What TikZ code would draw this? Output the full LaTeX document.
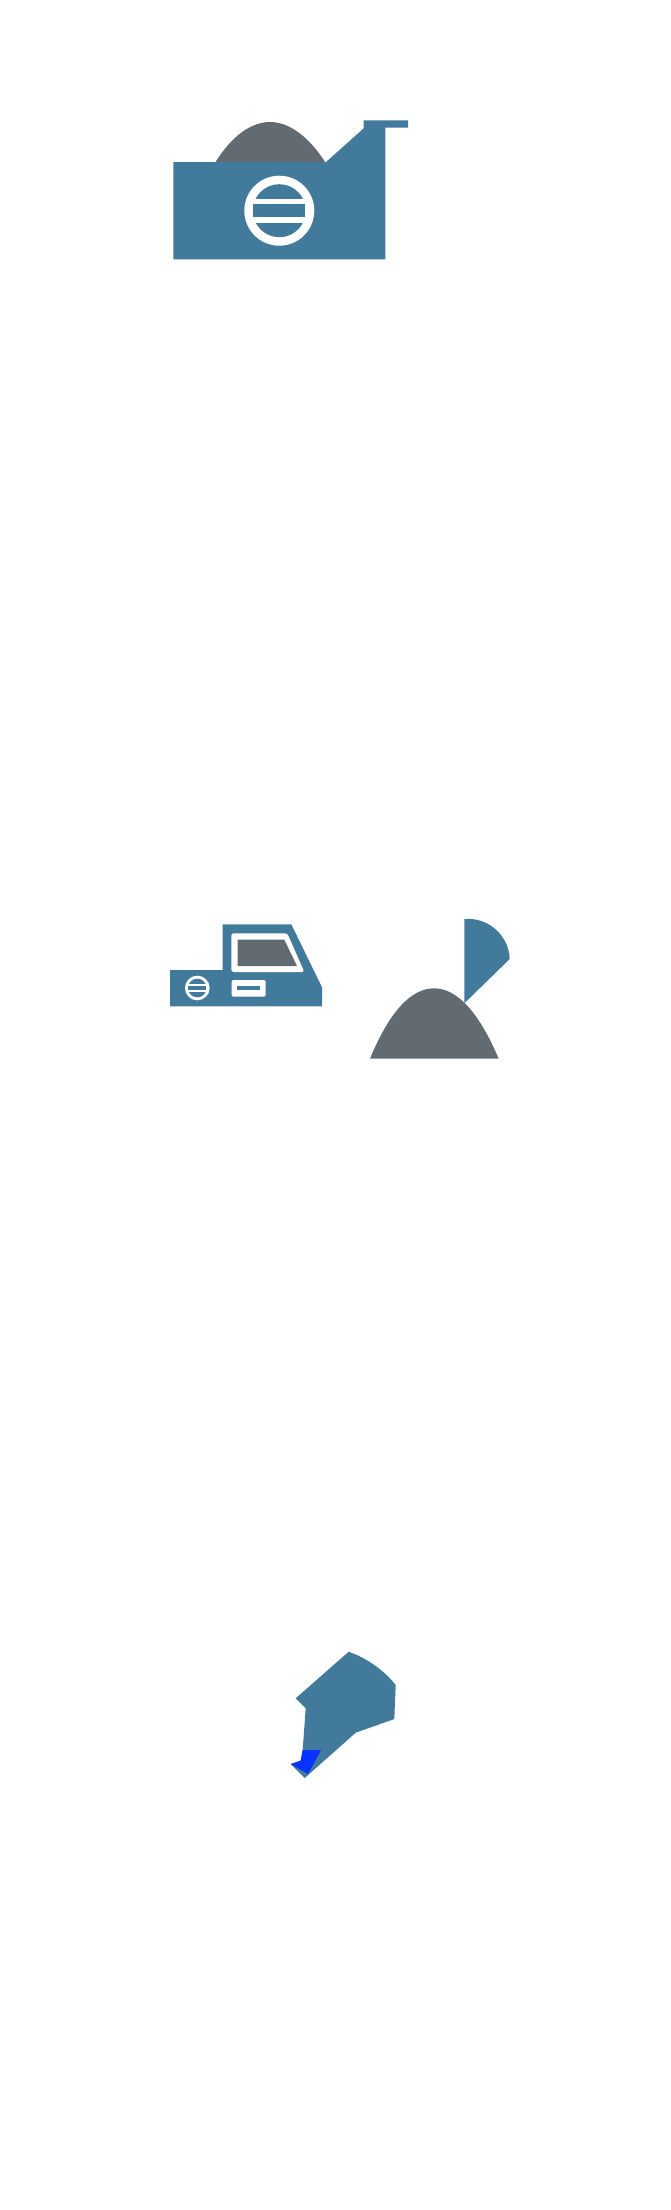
\documentclass[tikz,border=0pt]{standalone}
\usepackage{xcolor}
\usepackage{tikz}
\definecolor{bodyblue}{RGB}{66,122,156}
\definecolor{rollgray}{RGB}{99,107,114}
\definecolor{tipblue}{RGB}{10,50,255}
\tikzset{
	bodypart/.style={fill=bodyblue,draw=none},
	rollpart/.style={fill=rollgray,draw=none},
	tippart/.style={fill=tipblue,draw=none},
	cutpart/.style={fill=white,draw=none}
}
% wheel with two white bars, outer radius 35 before scaling
\newcommand{\tapewheel}[2]{
	\begin{scope}[shift={(#1)},scale=#2]
		\fill[cutpart] (0,0) circle (35);
		\fill[bodypart] (0,0) circle (26.5);
		\fill[cutpart] (-26.5,-12) rectangle (26.5,12);
		\fill[bodypart] (-26,-6.5) rectangle (26,6.5);
	\end{scope}
}

\begin{document}
\begin{tikzpicture}[x=1pt,y=-1pt]
	\useasboundingbox (0,0) rectangle (670,2210);
	%
	% large dispenser
	\fill[rollpart] (215,163) .. controls (232,135) and (252,122) .. (270,122)
		.. controls (288,122) and (308,135) .. (325.7,163) -- cycle;
	\fill[bodypart] (173.3,162) -- (325.7,162.3) -- (363.7,128.3) -- (363.7,120.3)
		-- (408,120.3) -- (408,127.7) -- (385.3,127.7) -- (385.3,259.3)
		-- (173.3,259.3) -- cycle;
	\tapewheel{279.3,210.7}{1}
	%
	% cutter with screen
	\fill[bodypart] (170,970) -- (222.7,970) -- (222.7,924.3) -- (291.3,924.3)
		-- (322,987.3) -- (322,1006.3) -- (170,1006.3) -- cycle;
	\fill[cutpart,rounded corners=2.5pt] (231.3,933.3) -- (287.3,933.3)
		-- (304.3,972) -- (231.3,972) -- cycle;
	\fill[rollpart] (237.7,939.7) -- (284.3,939.7) -- (297,966) -- (237.7,966) -- cycle;
	\fill[cutpart,rounded corners=2pt] (231.7,980) rectangle (265.7,996.7);
	\fill[bodypart] (236.7,985.7) rectangle (260,990);
	\tapewheel{197.3,988}{0.352}
	%
	% roll and blade
	\fill[bodypart] (464.3,919) .. controls (489,917) and (509,936) .. (509.7,959)
		-- (464.3,1003.3) -- cycle;
	\fill[rollpart] (370,1058.7) .. controls (390,1010) and (412,988.3) .. (434,988.3)
		.. controls (456,988.3) and (478,1010) .. (498.7,1058.7) -- cycle;
	%
	% tilted piece
	\fill[bodypart] (348.7,1651.7) .. controls (366,1658) and (383,1669) .. (395.7,1685)
		-- (394.3,1719) -- (355.7,1732.7) -- (304.7,1778) -- (290.7,1764)
		-- (300.7,1760.7) -- (302.7,1750) -- (305.7,1708.3) -- (295.7,1698.3) -- cycle;
	\fill[tippart] (302.7,1750) -- (321,1750) -- (308,1774) -- (290.7,1764)
		-- (300.7,1760.7) -- cycle;
\end{tikzpicture}
\end{document}
